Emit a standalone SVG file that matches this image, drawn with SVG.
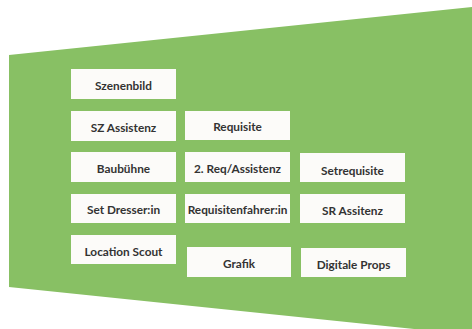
<svg xmlns="http://www.w3.org/2000/svg" width="472" height="329" viewBox="0 0 472 329">
<style>
.bg{fill:#88c064}
.box{fill:#fcfbf9}
.t{font-family:Lato,"Liberation Sans",sans-serif;font-weight:bold;font-size:11.8px;fill:#333;text-anchor:middle;dominant-baseline:central}
</style>
<rect width="472" height="329" fill="#ffffff"/>
<polygon class="bg" points="9,55 472,7 472,335 9,287"/>
<g id="szenenbild"><rect class="box" x="71" y="69" width="105" height="30"/><text class="t" x="123.5" y="85">Szenenbild</text></g>
<g id="sz-assistenz"><rect class="box" x="71" y="111" width="105" height="30"/><text class="t" x="123.5" y="127">SZ Assistenz</text></g>
<g id="requisite"><rect class="box" x="185" y="111" width="105" height="29"/><text class="t" x="237.5" y="126.5">Requisite</text></g>
<g id="baubuehne"><rect class="box" x="71" y="152" width="105" height="30"/><text class="t" x="123.5" y="168">Baubühne</text></g>
<g id="req-assistenz"><rect class="box" x="185" y="152" width="105" height="30"/><text class="t" x="237.5" y="168">2. Req/Assistenz</text></g>
<g id="setrequisite"><rect class="box" x="300" y="153" width="105" height="29"/><text class="t" x="352.5" y="170">Setrequisite</text></g>
<g id="set-dresser"><rect class="box" x="71" y="194" width="105" height="29"/><text class="t" x="123.5" y="209.5">Set Dresser:in</text></g>
<g id="requisitenfahrer"><rect class="box" x="185" y="194" width="105" height="29"/><text class="t" x="237.5" y="209.5">Requisitenfahrer:in</text></g>
<g id="sr-assitenz"><rect class="box" x="300" y="194" width="105" height="29"/><text class="t" x="352.5" y="210.5">SR Assitenz</text></g>
<g id="location-scout"><rect class="box" x="71" y="235" width="105" height="29"/><text class="t" x="123.5" y="251">Location Scout</text></g>
<g id="grafik"><rect class="box" x="187" y="247" width="104" height="30"/><text class="t" x="239" y="263.5">Grafik</text></g>
<g id="digitale-props"><rect class="box" x="301" y="248" width="105" height="29"/><text class="t" x="353.5" y="264.5">Digitale Props</text></g>
<g id="connectors"></g>
</svg>
